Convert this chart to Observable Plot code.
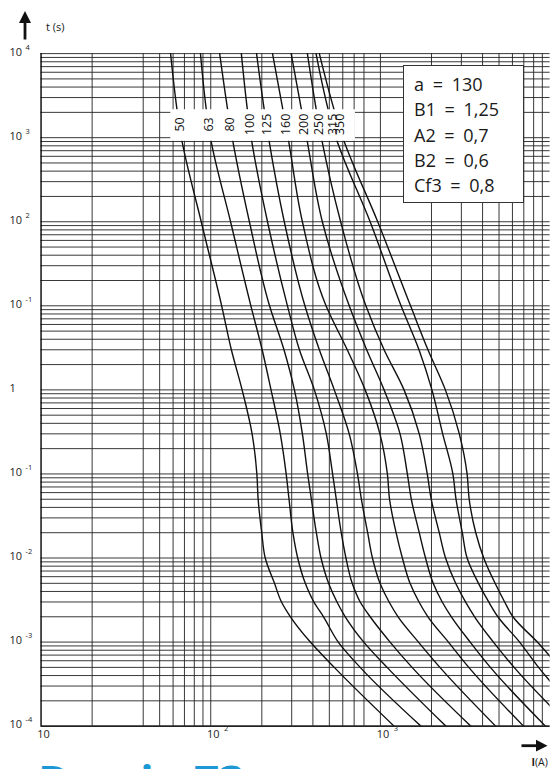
<!DOCTYPE html>
<html><head><meta charset="utf-8">
<script src="https://cdn.jsdelivr.net/npm/d3@7"></script>
<script src="https://cdn.jsdelivr.net/npm/@observablehq/plot@0.6"></script>
<style>
html,body{margin:0;padding:0;overflow:hidden;background:#fff;width:550px;height:769px}
#wrap{position:relative;width:550px;height:769px;font-family:"Open Sans",sans-serif;overflow:hidden}
#chart{position:absolute;left:0;top:0}
#deco{position:absolute;left:0;top:0}
#params{position:absolute;left:403px;top:65px;width:121px;height:138px;box-sizing:border-box;border:1.3px solid #333;background:#fff;padding:6px 0 0 10px;font-size:18px;word-spacing:4px;line-height:25.3px;color:#1a1a1a;white-space:pre}
#caption{position:absolute;left:38px;top:759px;font:bold 44px/1 "Open Sans",sans-serif;color:#1b98d5;white-space:pre}
</style></head>
<body>
<div id="wrap">
  <div id="chart"></div>
  <svg id="deco" width="550" height="769">
    <path d="M25,39.5V21" stroke="#111" stroke-width="2.8"/>
    <path d="M19,23L25,11L31,23Z" fill="#111"/>
    <text x="46" y="31" font-family="Open Sans" font-size="11" fill="#222">t (s)</text>
    <path d="M521.5,745.7H538" stroke="#111" stroke-width="2.8"/>
    <path d="M536,739.8L547.5,745.7L536,751.6Z" fill="#111"/>
    <text x="531.5" y="766" font-family="Open Sans" font-size="10.5" fill="#222"><tspan font-weight="bold">I</tspan>(A)</text>
  </svg>
  <div id="params"><div>a = 130</div><div>B1 = 1,25</div><div>A2 = 0,7</div><div>B2 = 0,6</div><div>Cf3 = 0,8</div></div>
  <div id="caption">Dessin 73</div>
</div>
<script>
// fuse ratings (A)
const ratings = [50, 63, 80, 100, 125, 160, 200, 250, 315, 350];
// pre-arcing time levels (s) at which each curve was read
const times = [10000, 1000, 100, 10, 3, 1, 0.3, 0.1, 0.05, 0.02, 0.01, 0.005, 0.003, 0.002, 0.001, 0.0005, 0.0001];
// current (A) of each curve at those times
const i50  = [58.0, 67.1, 87.9, 116, 132.3, 153.1, 175.3, 187.0, 190.3, 199.8, 209.5, 237.6, 261.2, 294.9, 386.5, 534.7, 1204];
const i63  = [87.0, 99.6, 130.9, 172.4, 200.9, 226.7, 257.0, 278.3, 289.4, 305.0, 325.5, 360.8, 405.3, 462.1, 564.4, 760, 1733];
const i80  = [112.9, 133.8, 169.0, 222.1, 270.2, 311.3, 346.9, 372.6, 391.8, 419.2, 446.7, 495.0, 554.6, 620.5, 797.8, 1095, 2431];
const i100 = [151.5, 173.1, 216.1, 283.2, 333.1, 408.0, 480.0, 522.6, 549.4, 587.7, 626.4, 682.0, 760.0, 870, 1140, 1536, 3408];
const i125 = [186.2, 219.1, 271.3, 358.9, 436.6, 534.7, 655.0, 732.6, 772.4, 841.1, 897.5, 994.5, 1125, 1271, 1676, 2242, 4780];
const i160 = [231.3, 285.5, 346.9, 478.0, 637.5, 813.0, 993.3, 1099, 1132, 1237, 1347, 1495, 1688, 1906, 2515, 3318, 6979];
const i200 = [297.8, 367.2, 454.7, 655.0, 829.8, 1051, 1305, 1441, 1521, 1694, 1845, 2047, 2313, 2619, 3381, 4449, 9398];
const i250 = [371.2, 448.6, 583.0, 820.9, 1051, 1378, 1694, 1888, 1993, 2222, 2421, 2776, 3173, 3589, 4634, 6137, 13178];
const i315 = [417.5, 547.1, 870, 1323, 1688, 2012, 2328, 2673, 2790, 3039, 3242, 3783, 4348, 4924, 6612, 8549, 17500];
const i350 = [436.6, 600.6, 964.3, 1505, 1906, 2415, 2918, 3242, 3336, 3647, 4063, 4741, 5398, 6039, 8411, 11355, 22630];
const currents = [i50, i63, i80, i100, i125, i160, i200, i250, i315, i350];

// grid lines
const xGrid = [20, 40, 50, 60, 70, 80, 90, 100, 200, 300, 400, 500, 600, 700, 800, 1000, 2000, 3000, 4000, 5000, 6000, 7000, 8000, 9000];
const yGrid = [];
for (let e = -4; e < 4; e++) for (let m = 1; m < 10; m++) yGrid.push(+(m * Math.pow(10, e)).toPrecision(3));
yGrid.push(10000);

// tick labels
const yTicks = [1e-4, 1e-3, 1e-2, 1e-1, 1, 10, 100, 1000, 10000];
const yTickBase = ["10", "10", "10", "10", "1", "10", "10", "10", "10"];
const yTickExp = ["-4", "-3", "-2", "-1", "", "-1", "2", "3", "4"];
const xTicks = [10, 100, 1000];
const xTickBase = ["10", "10", "10"];
const xTickExp = ["", "2", "3"];

const rows = ratings.flatMap((r, k) => times.map((t, j) => ({rating: r, I: currents[k][j], t})));

// curve labels sit on each curve inside a white band
const labelT = 1380;
const labels = ratings.map((r, k) => {
  const c = currents[k];
  const f = (Math.log10(times[0]) - Math.log10(labelT)) / (Math.log10(times[0]) - Math.log10(times[1]));
  const li = Math.log10(c[0]) + (Math.log10(c[1]) - Math.log10(c[0])) * f;
  return {rating: r, I: Math.pow(10, li), t: labelT};
});
const band = [{x1: labels[0].I / 1.13, x2: labels[labels.length - 1].I * 1.24, y1: 905, y2: 2150}];

const plot = Plot.plot({
  width: 552, height: 769,
  marginTop: 53.3, marginBottom: 40.7, marginLeft: 40.7, marginRight: 0.4,
  x: {type: "log", domain: [10, 10000], axis: null},
  y: {type: "log", domain: [1e-4, 1e4], axis: null},
  style: {fontFamily: "Open Sans", background: "transparent", overflow: "visible"},
  marks: [
    Plot.ruleX(xGrid, {stroke: "#222", strokeWidth: 0.9}),
    Plot.ruleY(yGrid, {stroke: "#222", strokeWidth: 0.9}),
    Plot.line(rows, {x: "I", y: "t", z: "rating", curve: "monotone-y", stroke: "#111", strokeWidth: 1.4, clip: true}),
    Plot.rect(band, {x1: "x1", x2: "x2", y1: "y1", y2: "y2", fill: "white"}),
    Plot.text(labels, {x: "I", y: "t", text: d => String(d.rating), rotate: -90, dy: -1.5, fontSize: 12.5, fill: "#111"}),
    Plot.ruleX([10], {stroke: "#000", strokeWidth: 1.4}),
    Plot.ruleY([1e-4], {stroke: "#000", strokeWidth: 1.4}),
    Plot.text(yTicks, {y: d => d, frameAnchor: "left", text: (d, i) => yTickBase[i], textAnchor: "start", dx: -31.7, dy: -1.5, fontSize: 11, fill: "#222"}),
    Plot.text(yTicks, {y: d => d, frameAnchor: "left", text: (d, i) => yTickExp[i], textAnchor: "start", dx: -15.5, dy: -6.5, fontSize: 7.5, fill: "#222"}),
    Plot.text(xTicks, {x: d => d, frameAnchor: "bottom", text: (d, i) => xTickBase[i], textAnchor: "start", dx: -3.7, dy: 12, fontSize: 11, fill: "#222"}),
    Plot.text(xTicks, {x: d => d, frameAnchor: "bottom", text: (d, i) => xTickExp[i], textAnchor: "start", dx: 13.3, dy: 5, fontSize: 7.5, fill: "#222"})
  ]
});
document.getElementById("chart").appendChild(plot);
</script>
</body></html>
